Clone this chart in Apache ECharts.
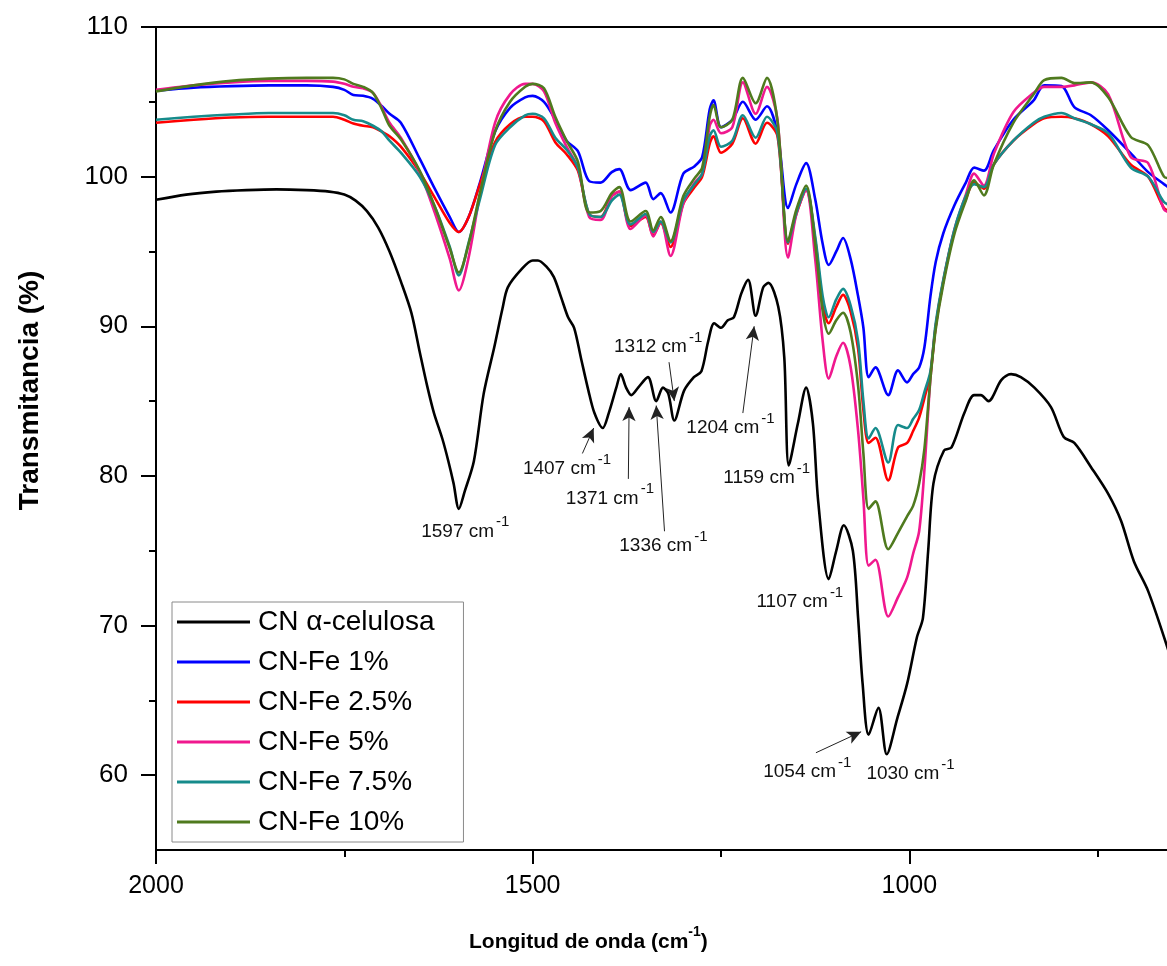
<!DOCTYPE html>
<html>
<head>
<meta charset="utf-8">
<script src="https://cdn.jsdelivr.net/npm/echarts@6/dist/echarts.min.js"></script>
<style>
html,body{margin:0;padding:0;background:#fff;}
#chart{width:1167px;height:966px;}
</style>
</head>
<body>
<div id="chart"></div>
<script>
// ---------------- data ----------------
const seriesNames = ['CN \u03b1-celulosa', 'CN-Fe 1%', 'CN-Fe 2.5%', 'CN-Fe 5%', 'CN-Fe 7.5%', 'CN-Fe 10%'];

const wnBlack = [2000,1960,1920,1880,1840,1800,1770,1750,1735,1720,
  1705,1690,1675,1661,1650,1640,1631,1620,1612,1605,
  1598,1590,1578,1565,1551,1540,1533,1515,1500,1493,
  1482,1472,1462,1453,1445,1436,1426,1418,1407,1399,
  1389,1383,1376,1369,1360,1347,1336,1327,1320,1312,
  1299,1286,1276,1267,1259,1250,1241,1233,1223,1214,
  1204,1194,1187,1174,1166,1160,1148,1137,1128,1121,
  1107,1097,1087,1075,1068,1062,1054,1041,1030,1016,
  1003,990,982,975,968,954,944,927,914,905,
  895,878,865,852,834,812,795,781,759,736,
  719,702,683,656];
const yBlack = [98.45,98.8,99.0,99.1,99.15,99.1,99.0,98.8,98.4,97.7,
  96.6,95.0,93.0,90.9,88.3,86.0,84.2,82.5,81.0,79.5,
  77.8,79.0,81.0,85.5,88.6,91.2,92.6,93.8,94.4,94.4,
  94.0,93.3,91.9,90.6,89.9,87.9,85.7,84.2,83.2,84.2,
  85.9,86.8,85.9,85.4,85.9,86.6,85.0,85.9,85.5,83.7,
  85.7,86.6,87.0,89.0,90.2,89.9,90.4,90.6,92.2,93.1,
  90.7,92.6,92.9,91.3,87.9,80.7,83.5,85.9,83.5,78.3,
  73.1,75.0,76.7,75.0,70.5,66.1,62.7,64.5,61.4,63.8,
  66.1,69.2,70.5,75.0,79.5,81.7,81.9,84.2,85.4,85.4,
  85.0,86.4,86.8,86.6,85.9,84.6,82.6,82.2,80.6,78.8,
  77.0,74.3,72.3,68.3];

const wnColor = [2000,1950,1900,1850,1800,1765,1750,1738,1725,1712,
  1700,1690,1675,1650,1630,1610,1598,1585,1570,1550,
  1530,1510,1500,1485,1470,1455,1440,1425,1410,1395,
  1385,1370,1350,1340,1330,1317,1300,1285,1275,1265,
  1260,1250,1235,1221,1204,1189,1175,1161,1150,1137,
  1125,1115,1107,1097,1088,1078,1068,1061,1054,1045,
  1028,1015,1003,995,987,980,972,965,955,940,
  925,914,901,888,862,835,821,798,781,759,
  736,706,683,662,654];
const yFe1 = [105.75,105.95,106.05,106.1,106.1,106.0,105.8,105.45,105.4,105.2,
  104.7,104.2,103.6,101.2,99.2,97.3,96.3,97.3,99.6,103.0,
  104.6,105.3,105.4,105.0,103.8,102.4,101.7,99.7,99.6,100.3,
  100.5,99.1,99.6,98.5,98.9,97.6,100.2,100.7,101.3,104.5,
  105.1,103.3,103.8,105.0,103.8,104.7,102.9,97.9,99.5,100.9,
  98.5,95.5,94.1,95.0,95.9,94.5,92.0,89.9,86.6,87.25,
  85.4,87.05,86.25,86.8,87.25,88.6,92.0,94.3,96.2,98.1,
  99.6,100.6,100.4,101.75,103.8,105.1,106.1,106.05,104.65,104.1,
  103.1,101.55,100.3,99.5,99.2];
const yFe25 = [103.6,103.8,103.95,104.0,104.0,104.0,103.8,103.55,103.4,103.3,
  103.0,102.7,102.0,100.3,98.6,96.9,96.3,97.3,99.5,102.3,
  103.5,104.0,104.0,103.7,102.3,101.5,100.4,97.5,97.3,98.7,
  99.0,96.7,97.3,96.1,96.9,95.3,98.2,99.3,100.0,102.2,
  102.7,101.6,102.2,103.9,102.2,103.6,102.7,95.5,97.5,99.1,
  95.8,91.5,90.2,91.3,92.1,91.0,88.5,84.4,82.2,82.55,
  79.7,81.9,82.2,83.0,83.9,85.2,86.8,90.0,93.0,96.4,
  98.5,99.6,99.2,100.8,102.4,103.5,103.9,104.0,103.9,103.5,
  102.7,100.8,100.0,97.9,97.7];
const yFe5 = [105.8,106.1,106.3,106.4,106.4,106.35,106.2,106.0,105.9,105.6,
  104.6,103.6,102.6,100.3,97.6,94.5,92.4,94.6,98.8,103.6,
  105.5,106.2,106.2,105.7,103.6,102.0,100.6,97.3,97.1,98.7,
  99.0,96.5,97.4,96.0,97.0,94.7,98.2,99.6,100.2,103.4,
  103.8,102.9,103.3,106.3,104.2,106.0,103.8,94.6,97.5,99.1,
  94.5,89.0,86.5,88.0,88.9,87.3,83.0,78.5,74.0,74.4,
  70.6,71.9,73.2,74.8,76.3,80.4,86.5,90.0,93.0,96.5,
  98.8,100.2,99.4,101.5,104.3,105.6,106.0,106.0,106.1,106.3,
  105.5,101.3,100.9,97.8,97.6];
const yFe75 = [103.8,104.0,104.15,104.25,104.25,104.25,104.1,103.8,103.7,103.4,
  103.0,102.4,101.6,100.0,98.0,95.3,93.4,95.6,98.5,102.1,
  103.3,104.1,104.2,103.9,102.6,101.8,100.6,97.5,97.3,98.4,
  98.8,96.8,97.5,96.3,97.0,95.6,98.4,99.5,100.2,102.7,
  103.1,102.0,102.4,104.1,102.6,104.0,102.9,95.6,97.6,99.2,
  96.0,92.0,90.6,91.8,92.5,91.4,89.0,85.0,82.5,83.2,
  80.9,83.4,83.2,83.8,84.4,85.6,87.0,90.2,93.1,96.5,
  98.7,99.5,99.3,100.8,102.4,103.6,104.0,104.25,103.9,103.5,
  102.9,100.6,100.0,98.3,98.1];
const yFe10 = [105.7,106.1,106.4,106.55,106.6,106.6,106.5,106.2,106.0,105.6,
  104.5,103.4,102.5,100.4,98.0,95.2,93.6,95.5,98.9,103.0,
  105.0,106.0,106.2,105.9,104.0,102.4,101.0,97.6,97.7,98.9,
  99.3,97.0,97.7,96.4,97.3,95.7,98.7,99.9,100.6,104.0,
  104.8,103.3,103.8,106.6,104.9,106.6,103.7,95.7,97.8,99.4,
  95.5,91.0,89.5,90.4,90.9,89.6,86.0,81.5,77.8,78.3,
  75.1,76.2,77.3,78.0,79.5,81.8,86.5,89.8,92.8,96.2,
  98.4,99.75,98.75,100.8,103.6,105.5,106.45,106.6,106.25,106.3,
  105.3,102.65,102.1,100.0,99.9];

const xMajorTicks = [2000, 1500, 1000];
const xMinorTicks = [1750, 1250, 750];
const yMajorTicks = [60, 70, 80, 90, 100, 110];
const yMinorTicks = [65, 75, 85, 95, 105];

// peak annotations: label anchor (left edge, vertical centre) in data units
const peakLabels = [
  {name: '1597', at: [1648, 76.3]},
  {name: '1407', at: [1513, 80.5]},
  {name: '1371', at: [1456, 78.5]},
  {name: '1336', at: [1385, 75.3]},
  {name: '1312', at: [1392, 88.6]},
  {name: '1204', at: [1296, 83.2]},
  {name: '1159', at: [1247, 79.9]},
  {name: '1107', at: [1203, 71.6]},
  {name: '1054', at: [1194, 60.2]},
  {name: '1030', at: [1057, 60.1]}
];
// arrows: from -> to, in data units
const arrows = [
  [[1434, 81.5], [1419, 83.2]],
  [[1373, 79.8], [1372, 84.6]],
  [[1325, 76.3], [1336, 84.7]],
  [[1319, 87.6], [1312, 85.0]],
  [[1221, 84.2], [1206, 90.0]],
  [[1124, 61.5], [1064, 62.9]]
];

const colors = ['#000000', '#0000FF', '#FF0000', '#F0188E', '#168B8B', '#4F7A1E'];

// ---------------- chart ----------------
const chart = echarts.init(document.getElementById('chart'), null, {renderer: 'canvas'});
const FONT = "'Liberation Sans', Arial, sans-serif";

const colorY = [yFe1, yFe25, yFe5, yFe75, yFe10];
const series = [];
series.push({
  name: seriesNames[0], type: 'line', xAxisIndex: 0, yAxisIndex: 0,
  data: wnBlack.map((w, i) => [w, yBlack[i]]),
  showSymbol: false, smooth: 0.3, lineStyle: {color: colors[0], width: 2.6},
  itemStyle: {color: colors[0]}, z: 2,
  markPoint: {
    symbol: 'circle', symbolSize: 0, silent: true, animation: false,
    label: {
      show: true, position: 'right', distance: 0,
      formatter: p => '{a|' + p.name + ' cm}{s|-1}',
      rich: {
        a: {fontSize: 19, fontFamily: FONT, color: '#111', lineHeight: 33, verticalAlign: 'middle'},
        s: {fontSize: 15, fontFamily: FONT, color: '#111', lineHeight: 16, verticalAlign: 'top', padding: [0, 0, 0, 2]}
      }
    },
    data: peakLabels.map(d => ({name: d.name, coord: d.at}))
  },
  markLine: {
    silent: true, animation: false, symbol: ['none', 'arrow'], symbolSize: [10, 14],
    lineStyle: {color: '#222', width: 1, type: 'solid'},
    label: {show: false},
    data: arrows.map(a => [{coord: a[0]}, {coord: a[1]}])
  }
});
colorY.forEach((arr, k) => {
  series.push({
    name: seriesNames[k + 1], type: 'line', xAxisIndex: 0, yAxisIndex: 0,
    data: wnColor.map((w, i) => [w, arr[i]]),
    showSymbol: false, smooth: 0.3, lineStyle: {color: colors[k + 1], width: 2.6},
    itemStyle: {color: colors[k + 1]}, z: 3 + k
  });
});

const xCommon = {type: 'value', inverse: true, min: 654, max: 2000, gridIndex: 0, position: 'bottom', splitLine: {show: false}};
const yCommon = {type: 'value', min: 55, max: 110, gridIndex: 0, position: 'left', splitLine: {show: false}};

const option = {
  animation: false,
  backgroundColor: '#ffffff',
  color: colors,
  title: {
    text: '{b|Longitud de onda (cm}{s|-1}{b|)}',
    left: 469, top: 925, padding: 0,
    textStyle: {
      rich: {
        b: {fontSize: 21, fontWeight: 'bold', fontFamily: FONT, color: '#000', lineHeight: 34, verticalAlign: 'middle'},
        s: {fontSize: 14, fontWeight: 'bold', fontFamily: FONT, color: '#000', lineHeight: 16, verticalAlign: 'top'}
      }
    }
  },
  grid: {left: 156, right: -3, top: 27, bottom: 116, show: true, borderColor: '#000', borderWidth: 2, backgroundColor: 'transparent', outerBoundsMode: 'none', containLabel: false},
  legend: {
    orient: 'vertical', left: 172, top: 602,
    padding: [5, 29, 5, 5], itemGap: 10, itemWidth: 73, itemHeight: 3, icon: 'rect',
    backgroundColor: '#fff', borderColor: '#8a8a8a', borderWidth: 1, borderRadius: 0,
    textStyle: {fontSize: 28, fontFamily: FONT, color: '#000', lineHeight: 30, padding: [0, 0, 0, 3]},
    data: seriesNames
  },
  xAxis: [
    Object.assign({}, xCommon, {
      axisLine: {show: true, onZero: false, lineStyle: {color: '#000', width: 2}},
      axisTick: {show: true, inside: false, length: 14, customValues: xMajorTicks, lineStyle: {color: '#000', width: 2}},
      axisLabel: {show: true, customValues: xMajorTicks, margin: 24, fontSize: 25, fontFamily: FONT, color: '#000', formatter: v => String(v)}
    }),
    Object.assign({}, xCommon, {
      axisLine: {show: false, onZero: false},
      axisTick: {show: true, inside: false, length: 7, customValues: xMinorTicks, lineStyle: {color: '#000', width: 2}},
      axisLabel: {show: false}
    })
  ],
  yAxis: [
    Object.assign({}, yCommon, {
      name: 'Transmitancia (%)', nameLocation: 'middle', nameRotate: 90, nameGap: 112,
      nameTextStyle: {fontSize: 28, fontWeight: 'bold', fontFamily: FONT, color: '#000', padding: [0, 0, 0, 96]},
      axisLine: {show: true, onZero: false, lineStyle: {color: '#000', width: 2}},
      axisTick: {show: true, inside: false, length: 15, customValues: yMajorTicks, lineStyle: {color: '#000', width: 2}},
      axisLabel: {show: true, customValues: yMajorTicks, margin: 28, fontSize: 26, fontFamily: FONT, color: '#000', formatter: v => String(v)}
    }),
    Object.assign({}, yCommon, {
      axisLine: {show: false, onZero: false},
      axisTick: {show: true, inside: false, length: 7, customValues: yMinorTicks, lineStyle: {color: '#000', width: 2}},
      axisLabel: {show: false}
    })
  ],
  series: series
};
chart.setOption(option);
</script>
</body>
</html>
